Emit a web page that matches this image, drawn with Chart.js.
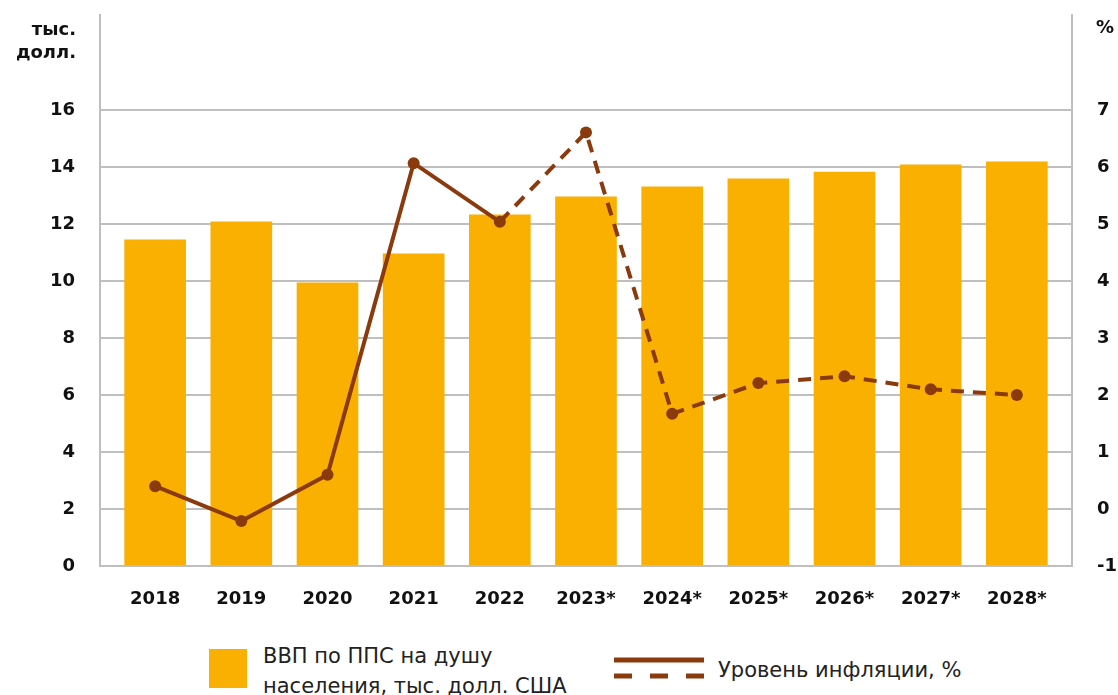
<!DOCTYPE html>
<html lang="ru">
<head>
<meta charset="utf-8">
<title>ВВП по ППС и инфляция</title>
<script src="https://cdn.jsdelivr.net/npm/chart.js"></script>
<style>
  html, body { margin: 0; padding: 0; background: #fff; }
  body { width: 1118px; height: 695px; position: relative; overflow: hidden; font-family: "DejaVu Sans", sans-serif; }
  #wrap { position: absolute; left: 0; top: 0; width: 1118px; height: 625px; }
  .axis-title { position: absolute; font-weight: 700; font-size: 18px; color: #111; line-height: 23px; }
  .legend-text { position: absolute; font-family: "DejaVu Sans", sans-serif; font-size: 21px; color: #222; line-height: 30px; }
</style>
</head>
<body>
<div id="wrap"><canvas id="chart" width="1118" height="625"></canvas></div>

<div class="axis-title" style="left: 0; width: 76px; top: 17px; text-align: right;">тыс.<br>долл.</div>
<div class="axis-title" style="left: 1096px; top: 15px;">%</div>

<!-- legend -->
<div style="position:absolute; left:209px; top:649px; width:38px; height:39px; background:#f9b000;"></div>
<div class="legend-text" style="left:263px; top:641px;">ВВП по ППС на душу<br>населения, тыс. долл. США</div>
<svg style="position:absolute; left:612px; top:654px;" width="94" height="30">
  <line x1="2" y1="6" x2="92" y2="6" stroke="#8b3a0e" stroke-width="5"/>
  <line x1="2" y1="22" x2="92" y2="22" stroke="#8b3a0e" stroke-width="5" stroke-dasharray="18,18"/>
</svg>
<div class="legend-text" style="left:718px; top:655px;">Уровень инфляции, %</div>

<script>
const years = ['2018', '2019', '2020', '2021', '2022', '2023*', '2024*', '2025*', '2026*', '2027*', '2028*'];
// ВВП по ППС на душу населения, тыс. долл. США
const gdpPpp = [11.44, 12.07, 9.93, 10.95, 12.32, 12.95, 13.30, 13.58, 13.82, 14.07, 14.18];
// Уровень инфляции, %
const inflation = [0.40, -0.21, 0.60, 6.07, 5.04, 6.61, 1.67, 2.21, 2.33, 2.10, 2.00];
// last actual year; later points are forecasts (dashed)
const lastActual = 4;

const leftTicks = [0, 2, 4, 6, 8, 10, 12, 14, 16];
const rightTicks = [-1, 0, 1, 2, 3, 4, 5, 6, 7];

const barColor = '#f9b000';
const lineColor = '#8b3a0e';
const gridColor = '#bfbfbf';
const tickFont = { family: '"DejaVu Sans", sans-serif', size: 18, weight: 'bold' };

// drop the automatic label padding so the plot box sits exactly where set
const noPad = s => { s.paddingTop = 0; s.paddingBottom = 0; s.paddingLeft = 0; s.paddingRight = 0; };

new Chart(document.getElementById('chart'), {
  data: {
    datasets: [
      {
        type: 'line',
        label: 'Уровень инфляции, %',
        data: inflation.map((v, i) => ({ x: i, y: v })),
        yAxisID: 'yr',
        borderColor: lineColor,
        backgroundColor: lineColor,
        borderWidth: 4,
        pointRadius: 6,
        pointHoverRadius: 6,
        pointBackgroundColor: lineColor,
        pointBorderWidth: 0,
        tension: 0,
        segment: {
          borderDash: ctx => ctx.p0DataIndex >= lastActual ? [13, 9] : undefined
        },
        order: 0
      },
      {
        type: 'bar',
        label: 'ВВП по ППС на душу населения, тыс. долл. США',
        data: gdpPpp.map((v, i) => ({ x: i, y: v })),
        yAxisID: 'y',
        backgroundColor: barColor,
        barThickness: 61,
        order: 1
      }
    ]
  },
  options: {
    responsive: false,
    animation: false,
    layout: { padding: { top: 15, left: 0, right: 0, bottom: 0 } },
    plugins: { legend: { display: false }, tooltip: { enabled: false } },
    scales: {
      x: {
        type: 'linear',
        offset: false,
        min: -0.64,
        max: 10.64,
        afterBuildTicks: s => { s.ticks = years.map((_, i) => ({ value: i })); },
        afterFit: s => { s.height = 59; noPad(s); },
        grid: { display: false, offset: false },
        border: { display: true, color: gridColor, width: 2 },
        ticks: {
          autoSkip: false,
          maxRotation: 0,
          padding: 15,
          color: '#111',
          font: tickFont,
          callback: v => years[v]
        }
      },
      y: {
        position: 'left',
        min: 0,
        max: 19.33,
        afterBuildTicks: s => { s.ticks = leftTicks.map(v => ({ value: v })); },
        afterFit: s => { s.width = 100; noPad(s); },
        grid: { color: gridColor, lineWidth: 2, drawTicks: false },
        border: { color: gridColor, width: 2 },
        ticks: { padding: 25, color: '#111', font: tickFont }
      },
      yr: {
        position: 'right',
        min: -1,
        max: 8.67,
        afterBuildTicks: s => { s.ticks = rightTicks.map(v => ({ value: v })); },
        afterFit: s => { s.width = 46; noPad(s); },
        grid: { display: false, drawTicks: false },
        border: { color: gridColor, width: 2 },
        ticks: { padding: 25, color: '#111', font: tickFont }
      }
    }
  }
});
</script>
</body>
</html>
